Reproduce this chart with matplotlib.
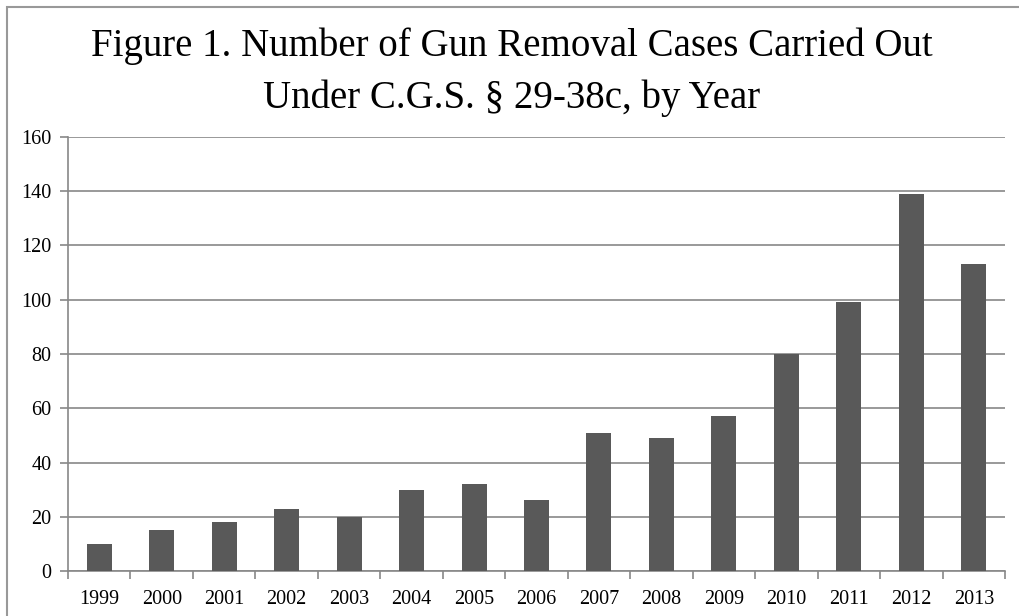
import numpy as np
import matplotlib
matplotlib.use('Agg')
import matplotlib.pyplot as plt
from matplotlib.patches import Rectangle

years = ['1999', '2000', '2001', '2002', '2003', '2004', '2005', '2006',
         '2007', '2008', '2009', '2010', '2011', '2012', '2013']
cases = [10, 15, 18, 23, 20, 30, 32, 26, 51, 49, 57, 80, 99, 139, 113]
y_ticks = [0, 20, 40, 60, 80, 100, 120, 140, 160]

plt.rcParams['font.family'] = ['Liberation Serif', 'DejaVu Serif']

fig = plt.figure(figsize=(10.19, 6.16), dpi=100)
ax = fig.add_axes([68/1019, 1-571/616, (1005-68)/1019, (571-137)/616])

x = np.arange(len(years))
ax.bar(x, cases, width=0.4, color='#595959', zorder=3)

ax.set_xlim(-0.5, len(years)-0.5)
ax.set_ylim(0, 160)
ax.set_yticks(y_ticks)
ax.set_yticklabels([str(v) for v in y_ticks], fontsize=14.5)

# tick marks sit between categories, labels at centres
ax.set_xticks(np.arange(-0.5, len(years)), minor=False)
ax.set_xticklabels([])
ax.set_xticks(x, minor=True)
ax.set_xticklabels(years, minor=True, fontsize=14.5)
ax.tick_params(axis='x', which='minor', length=0, pad=14)
ax.tick_params(axis='x', which='major', length=6, color='#888888', width=1.2)
ax.tick_params(axis='y', length=6, color='#888888', width=1.2, pad=6)

ax.grid(axis='y', color='#888888', linewidth=1.2, zorder=0)
for s in ['top', 'right']:
    ax.spines[s].set_visible(False)
for s in ['left', 'bottom']:
    ax.spines[s].set_color('#888888')
    ax.spines[s].set_linewidth(1.2)

fig.text(0.502, 0.925, 'Figure 1. Number of Gun Removal Cases Carried Out',
         ha='center', va='center', fontsize=28)
fig.text(0.502, 0.840, 'Under C.G.S. § 29-38c, by Year',
         ha='center', va='center', fontsize=28)

# outer chart frame
fig.patches.append(Rectangle((6.5/1019, -0.1), 1.2, 1-6.5/616+0.1,
                             transform=fig.transFigure, fill=False,
                             edgecolor='#999999', linewidth=1.5))

plt.savefig('out.png', dpi=100)
